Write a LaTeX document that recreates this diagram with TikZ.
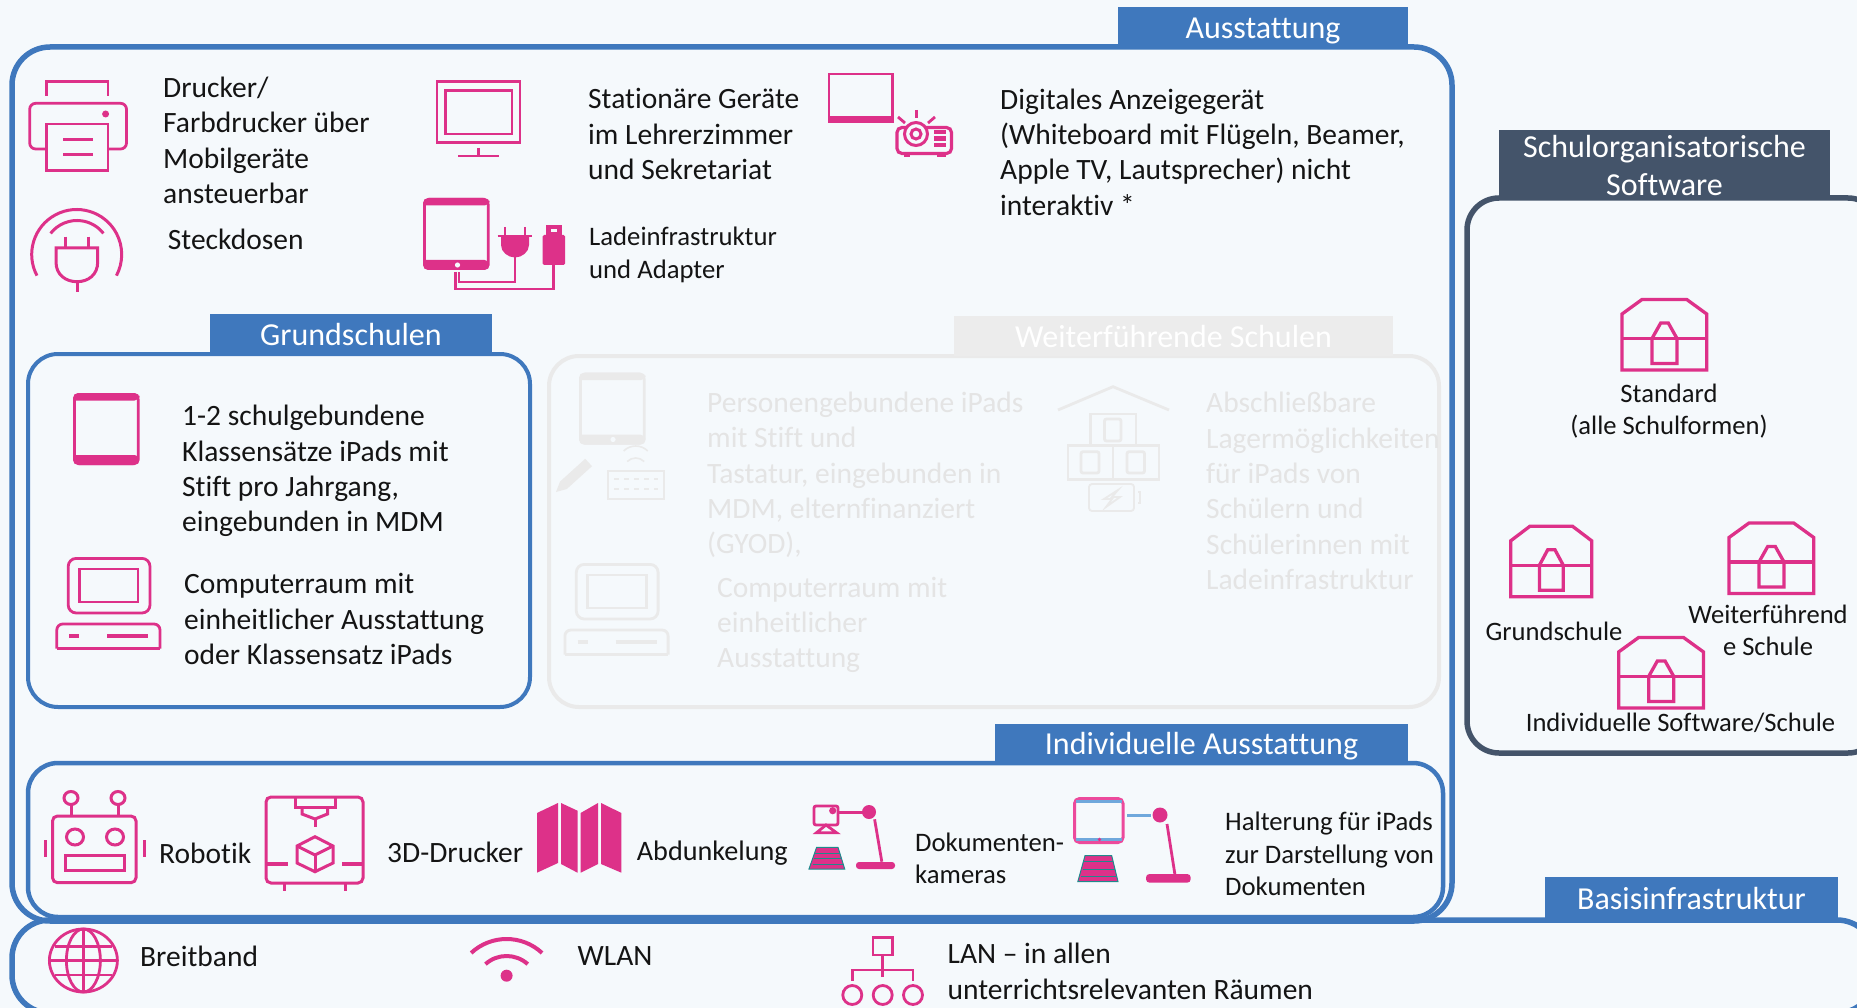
\documentclass[tikz,border=0pt]{standalone}
\usepackage{fontspec}
\setmainfont[Ligatures=NoCommon]{Carlito}
\usepackage{tikz}
\definecolor{pagebg}{HTML}{F5F9FC}
\definecolor{ausblue}{HTML}{3F78BD}
\definecolor{slatedark}{HTML}{44546A}
\definecolor{iconpink}{HTML}{DD3189}
\definecolor{padpink}{HTML}{EC4A9C}
\definecolor{fadeline}{HTML}{EAEAEA}
\definecolor{fadetext}{HTML}{E4E4E4}
\definecolor{fadetab}{HTML}{ECECEC}
\definecolor{docteal}{HTML}{1F8A8C}
\definecolor{padblue}{HTML}{6FA8DC}
\tikzset{
	bodytext/.style={anchor=west, inner sep=0pt, align=left, text=black!92, font=\fontsize{29.5}{35.3}\selectfont},
	smalltext/.style={bodytext, font=\fontsize{26.7}{32.3}\selectfont},
	fadetextnode/.style={bodytext, text=fadetext},
	sidetext/.style={inner sep=0pt, align=center, text=black!92, font=\fontsize{26.6}{32.5}\selectfont},
	tabbox/.style={inner sep=0pt, align=center, text=white, fill=#1, font=\fontsize{32}{38}\selectfont},
	tabline/.style={tabbox=#1, text height=28pt, text depth=6pt},
	bigbox/.style={draw=ausblue, line width=5.5pt, rounded corners=38pt},
	midbox/.style={draw=#1, line width=4pt, rounded corners=30pt},
	iconline/.style={draw=#1, line width=2.8pt},
	iconfill/.style={fill=#1},
}
\def\centerarc[#1](#2,#3)(#4:#5:#6){\draw[#1] ({#2+#6*cos(#4)},{#3-#6*sin(#4)}) arc (#4:#5:#6pt);}
\def\tableticon[#1](#2,#3){
	\draw[iconline=#1, rounded corners=5pt] (#2+1.4,#3+1.4) rectangle (#2+65.2,#3+70.6);
	\fill[iconfill=#1, rounded corners=5pt] (#2,#3+7.5) -- (#2,#3) -- (#2+66.6,#3) -- (#2+66.6,#3+7.5) [sharp corners] -- cycle;
	\fill[iconfill=#1, rounded corners=5pt] (#2,#3+62) -- (#2,#3+72) -- (#2+66.6,#3+72) -- (#2+66.6,#3+62) [sharp corners] -- cycle;
}
\def\compicon[#1](#2,#3){
	\draw[iconline=#1, rounded corners=8pt] (#2+12.8,#3+1.4) rectangle (#2+94.6,#3+56);
	\draw[iconline=#1] (#2+24,#3+12) rectangle (#2+82.6,#3+45);
	\draw[iconline=#1, rounded corners=6pt] (#2+1.4,#3+91.6) -- (#2+1.4,#3+67) -- (#2+104.6,#3+67) -- (#2+104.6,#3+91.6);
	\draw[iconline=#1] (#2+1.4,#3+91.6) -- (#2+104.6,#3+91.6);
	\draw[iconline=#1, line width=3.4pt] (#2+14,#3+79) -- (#2+24,#3+79);
	\draw[iconline=#1, line width=3.4pt] (#2+52,#3+79) -- (#2+93,#3+79);
}
\def\chesticon(#1,#2){
	\draw[iconline=iconpink, line width=3.3pt] (#1,#2+70.5) -- (#1,#2+14.5) -- (#1+20,#2) -- (#1+64.7,#2) -- (#1+84.7,#2+14.5) -- (#1+84.7,#2+70.5) -- cycle;
	\draw[iconline=iconpink, line width=3.3pt] (#1,#2+39) -- (#1+84.7,#2+39);
	\draw[iconline=iconpink, line width=3.3pt] (#1+30,#2+39) -- (#1+30,#2+64) -- (#1+55,#2+64) -- (#1+55,#2+39) -- (#1+46.3,#2+23.5) -- (#1+38.7,#2+23.5) -- cycle;
}

\begin{document}
\begin{tikzpicture}[x=1pt, y=-1pt]
	%%%%% START %%%%%
	\useasboundingbox (0, 0) rectangle (1857, 1008);
	\fill[pagebg] (0, 0) rectangle (1857, 1008);
	
	% frames
	\draw[bigbox] (12, 47) rectangle (1452, 921);
	\draw[bigbox] (12, 920) rectangle (1875, 1013);
	\draw[bigbox, draw=slatedark, rounded corners=32pt] (1467, 198) rectangle (1880, 753);
	\draw[midbox=ausblue] (28, 354) rectangle (530, 707);
	\draw[midbox=fadeline] (549, 356) rectangle (1439, 707);
	\draw[midbox=ausblue, line width=4.5pt] (28, 763) rectangle (1443, 917);
	
	% tabs
	\node[tabline=ausblue, minimum width=290pt, minimum height=41pt] (ausstattung) at (1263, 27.5) {Ausstattung};
	\node[tabline=ausblue, minimum width=282pt, minimum height=40pt] (grundschulen) at (351, 334) {Grundschulen};
	\node[tabline=fadetab, minimum width=439pt, minimum height=40pt] (weiterfuehrende) at (1173.5, 336) {Weiterführende Schulen};
	\node[tabline=ausblue, minimum width=413pt, minimum height=39pt] (individuelle) at (1201.5, 743.5) {Individuelle Ausstattung};
	\node[tabline=ausblue, minimum width=293pt, minimum height=42pt] (basis) at (1691.5, 898) {Basisinfrastruktur};
	\fill[slatedark] (1499, 130) rectangle (1830, 198);
	\node[tabbox=slatedark] (schulorg) at (1664.5, 166) {Schulorganisatorische\\Software};
	
	%%%%% Ausstattung %%%%%
	% printer
	\draw[iconline=iconpink] (46.7, 96) -- (46.7, 81.7) -- (108, 81.7) -- (108, 96);
	\draw[iconline=iconpink, rounded corners=6pt] (46.7, 149) -- (29.7, 149) -- (29.7, 103.3) -- (126.5, 103.3) -- (126.5, 149) -- (108, 149);
	\draw[iconline=iconpink] (46.7, 124) rectangle (108, 170.7);
	\draw[iconline=iconpink] (63, 139.7) -- (93, 139.7);
	\draw[iconline=iconpink] (63, 154.3) -- (93, 154.3);
	\fill[iconfill=iconpink] (105.6, 114) circle (3.5);
	\node[bodytext] (drucker) at (163, 140.5) {Drucker/\\Farbdrucker über\\Mobilgeräte\\ansteuerbar};
	
	% socket
	\centerarc[iconline=iconpink, line width=3pt](76.7,254.5)(208:-28:45);
	\centerarc[iconline=iconpink, line width=3pt](77,254)(142:38:33.5);
	\draw[iconline=iconpink, line width=3pt] (65, 236.7) -- (65, 248);
	\draw[iconline=iconpink, line width=3pt] (88, 236.7) -- (88, 248);
	\draw[iconline=iconpink, line width=3pt] (56, 248) -- (56, 262) .. controls (56, 275) and (66, 281.7) .. (77, 281.7) .. controls (88, 281.7) and (97.7, 275) .. (97.7, 262) -- (97.7, 248) -- cycle;
	\draw[iconline=iconpink, line width=3pt] (77, 281.7) -- (77, 291.7);
	\node[bodytext] (steckdosen) at (167.7, 239) {Steckdosen};
	
	% monitor
	\draw[iconline=iconpink] (437, 81.7) rectangle (520, 142.7);
	\draw[iconline=iconpink] (445.6, 90.7) rectangle (512, 134);
	\draw[iconline=iconpink] (478.5, 148) -- (478.5, 156);
	\draw[iconline=iconpink] (458, 156) -- (499, 156);
	\node[bodytext] (stationaer) at (588, 134) {Stationäre Geräte\\im Lehrerzimmer\\und Sekretariat};
	
	% charging
	\tableticon[iconpink](423,198)
	\fill[pagebg] (457.5, 265) circle (2.6);
	\draw[iconline=iconpink] (505, 227) -- (505, 237);
	\draw[iconline=iconpink] (525, 227) -- (525, 237);
	\draw[iconline=iconpink] (497.5, 236) -- (532, 236);
	\fill[iconfill=iconpink] (501, 236) -- (501, 245) .. controls (501, 252) and (508, 257.5) .. (515, 257.5) .. controls (522, 257.5) and (529, 252) .. (529, 245) -- (529, 236) -- cycle;
	\draw[iconline=iconpink] (515, 257) -- (515, 282) -- (459, 282) -- (459, 272);
	\fill[iconfill=iconpink, rounded corners=1.5pt] (542.5, 235) rectangle (565, 265);
	\fill[iconfill=iconpink] (546, 225) rectangle (561.5, 235);
	\fill[pagebg] (551, 229) rectangle (556.5, 232);
	\draw[iconline=iconpink] (553.6, 265) -- (553.6, 289) -- (455.5, 289) -- (455.5, 272);
	\node[smalltext] (lade) at (589, 255) {Ladeinfrastruktur\\und Adapter};
	
	% projector
	\draw[iconline=iconpink, line width=2.4pt] (829.2, 116) -- (829.2, 74.2) -- (892.4, 74.2) -- (892.4, 116);
	\fill[iconfill=iconpink] (828, 115.7) rectangle (893.6, 122.7);
	\draw[iconline=iconpink, line width=3.2pt, rounded corners=5pt] (897, 127.5) rectangle (951.5, 153.5);
	\fill[iconfill=iconpink] (904, 154) rectangle (910, 157.3);
	\fill[iconfill=iconpink] (937, 154) rectangle (946, 157.3);
	\filldraw[fill=pagebg, iconline=iconpink, line width=3pt] (916, 134) circle (11.5);
	\draw[iconline=iconpink, line width=3pt] (916, 134) circle (5);
	\fill[iconfill=iconpink] (934, 130) rectangle (946, 134);
	\fill[iconfill=iconpink] (934, 136) rectangle (946, 141);
	\fill[iconfill=iconpink] (934, 143) rectangle (946, 147);
	\draw[iconline=iconpink] (916.6, 110) -- (916.6, 118);
	\draw[iconline=iconpink] (898, 117) -- (905, 123);
	\draw[iconline=iconpink] (935, 117) -- (928, 123);
	\node[bodytext] (anzeige) at (1000, 152) {Digitales Anzeigegerät\\(Whiteboard mit Flügeln, Beamer,\\Apple TV, Lautsprecher) nicht\\interaktiv *};
	
	%%%%% Grundschulen %%%%%
	\tableticon[iconpink](73,393)
	\node[bodytext] (klassensaetze) at (182, 471) {1-2 schulgebundene\\Klassensätze iPads mit\\Stift pro Jahrgang,\\eingebunden in MDM};
	\compicon[iconpink](55.4,557)
	\node[bodytext] (computerraum) at (184, 619) {Computerraum mit\\einheitlicher Ausstattung\\oder Klassensatz iPads};
	
	%%%%% Weiterfuehrende Schulen %%%%%
	\tableticon[fadeline](579,372.7)
	\fill[pagebg] (613, 439.5) circle (2.6);
	\centerarc[iconline=fadeline, line width=1.6pt](635.7,463)(135:45:17);
	\centerarc[iconline=fadeline, line width=1.6pt](635.7,470)(135:45:12);
	\draw[iconline=fadeline, line width=2pt] (607.5, 470.7) rectangle (664, 499.3);
	\draw[iconline=fadeline, line width=1.6pt, dash pattern=on 5pt off 5pt] (614, 479) -- (658, 479);
	\draw[iconline=fadeline, line width=1.6pt, dash pattern=on 5pt off 5pt] (614, 489) -- (658, 489);
	\fill[iconfill=fadeline] (556, 492) -- (560, 481.6) -- (585.2, 458.8) -- (592, 466.2) -- (566.8, 489) -- cycle;
	\compicon[fadeline](563.5,563)
	\node[fadetextnode] (personen) at (707, 475) {Personengebundene iPads\\mit Stift und\\Tastatur, eingebunden in\\MDM, elternfinanziert\\(GYOD),};
	\node[fadetextnode] (computerfade) at (717, 625) {Computerraum mit\\einheitlicher\\Ausstattung};
	
	\draw[iconline=fadeline] (1058, 410) -- (1113, 386.7) -- (1169, 410);
	\draw[iconline=fadeline] (1090.5, 414) rectangle (1136, 445.7);
	\draw[iconline=fadeline] (1068, 445.7) rectangle (1159, 479.3);
	\draw[iconline=fadeline] (1113, 445.7) -- (1113, 479.3);
	\draw[iconline=fadeline, rounded corners=2pt] (1104.5, 419) rectangle (1121, 441);
	\draw[iconline=fadeline, rounded corners=2pt] (1081, 451.7) rectangle (1099, 473);
	\draw[iconline=fadeline, rounded corners=2pt] (1127, 451.7) rectangle (1144.5, 473);
	\draw[iconline=fadeline, line width=1.8pt, rounded corners=3pt] (1089, 484) rectangle (1134, 511);
	\draw[iconline=fadeline, line width=1.8pt] (1138, 492) -- (1140, 492) -- (1140, 503) -- (1138, 503);
	\draw[iconline=fadeline, line width=1.8pt] (1118, 490) -- (1104, 499) -- (1112, 499) -- (1106, 507) -- (1120, 497) -- (1112, 497) -- cycle;
	\node[fadetextnode] (lager) at (1206, 491) {Abschließbare\\Lagermöglichkeiten\\für iPads von\\Schülern und\\Schülerinnen mit\\Ladeinfrastruktur};
	
	%%%%% Individuelle Ausstattung %%%%%
	% robot
	\draw[iconline=iconpink, line width=3pt, rounded corners=5pt] (52.5, 816) rectangle (136, 882.7);
	\draw[iconline=iconpink, line width=3pt] (71, 798) ellipse (7 and 6.5);
	\draw[iconline=iconpink, line width=3pt] (118, 798) ellipse (7 and 6.5);
	\draw[iconline=iconpink, line width=3pt] (71, 804.5) -- (71, 816);
	\draw[iconline=iconpink, line width=3pt] (118, 804.5) -- (118, 816);
	\draw[iconline=iconpink, line width=3pt] (75, 837) ellipse (8.5 and 8);
	\draw[iconline=iconpink, line width=3pt] (115, 837) ellipse (8.5 and 8);
	\draw[iconline=iconpink, line width=3pt] (65, 855) rectangle (124, 870.7);
	\draw[iconline=iconpink, line width=3pt] (45, 840) -- (45, 857);
	\draw[iconline=iconpink, line width=3pt] (144, 840) -- (144, 857);
	\node[bodytext] (robotik) at (159, 853) {Robotik};
	
	% 3d printer
	\draw[iconline=iconpink, line width=3pt, rounded corners=5pt] (266, 797) rectangle (363, 883);
	\draw[iconline=iconpink, line width=3pt] (295, 797) -- (295, 807) -- (335, 807) -- (335, 797);
	\draw[iconline=iconpink, line width=3pt] (302, 807) -- (302, 814) -- (315, 819) -- (327.5, 814) -- (327.5, 807);
	\draw[iconline=iconpink, line width=3pt] (315, 819) -- (315, 827);
	\draw[iconline=iconpink, line width=3pt] (315, 836.7) -- (333, 846) -- (333, 863) -- (315, 871.7) -- (297, 863) -- (297, 846) -- cycle;
	\draw[iconline=iconpink, line width=3pt] (297, 846) -- (315, 855) -- (333, 846);
	\draw[iconline=iconpink, line width=3pt] (315, 855) -- (315, 871.7);
	\draw[iconline=iconpink, line width=4.5pt] (266, 864) -- (288, 864);
	\draw[iconline=iconpink, line width=4.5pt] (342, 864) -- (363, 864);
	\draw[iconline=iconpink, line width=3pt] (284, 883) -- (284, 891);
	\draw[iconline=iconpink, line width=3pt] (345, 883) -- (345, 891);
	\node[bodytext] (drucker3d) at (387, 852) {3D-Drucker};
	
	% blackout map
	\fill[iconfill=iconpink] (537, 813) -- (558, 803) -- (558, 863) -- (537, 872.7) -- cycle;
	\fill[iconfill=iconpink] (561, 803) -- (577.5, 810.7) -- (577.5, 872.7) -- (561, 864) -- cycle;
	\fill[iconfill=iconpink] (580.6, 813) -- (598, 803) -- (598, 864) -- (580.6, 872.7) -- cycle;
	\fill[iconfill=iconpink] (601, 803) -- (621.4, 813) -- (621.4, 872.7) -- (601, 864) -- cycle;
	\node[bodytext, font=\fontsize{28.2}{33}\selectfont] (abdunkelung) at (636.7, 853) {Abdunkelung};
	
	% document camera
	\draw[iconline=iconpink, rounded corners=2pt] (814, 806) rectangle (838, 825);
	\fill[iconfill=iconpink] (832.7, 810.7) circle (3.6);
	\draw[iconline=iconpink] (826, 825) -- (816.5, 832.7) -- (836.5, 832.7) -- cycle;
	\draw[iconline=iconpink] (838, 812.3) -- (862.6, 812.3);
	\fill[iconfill=iconpink] (869, 812) circle (7);
	\draw[iconline=iconpink] (874.6, 819.3) -- (881.8, 861.7);
	\fill[iconfill=iconpink, rounded corners=3pt] (856, 869) -- (856, 862) -- (895, 862) -- (895, 869) -- cycle;
	\filldraw[fill=iconpink, draw=docteal, line width=1pt] (816.6, 847.3) -- (838, 847.3) -- (844.7, 869) -- (809, 869) -- cycle;
	\draw[docteal, line width=1pt] (815, 853.3) -- (840, 853.3);
	\draw[docteal, line width=1pt] (814, 858.3) -- (841.5, 858.3);
	\draw[docteal, line width=1pt] (812.5, 864) -- (843, 864);
	\node[smalltext] (kameras) at (915, 858) {Dokumenten-\\kameras};
	
	% tablet holder
	\filldraw[fill=pagebg, draw=padpink, line width=3pt, rounded corners=5pt] (1074.5, 798.5) rectangle (1123, 842.5);
	\fill[padblue] (1076, 800) rectangle (1121.5, 803);
	\fill[padblue] (1076, 838) rectangle (1121.5, 841);
	\fill[iconfill=iconpink] (1099.5, 839.5) circle (1.8);
	\draw[padblue, line width=2.4pt] (1127, 815.3) -- (1150.5, 815.3);
	\fill[iconfill=iconpink] (1160, 815) circle (7.5);
	\draw[iconline=iconpink] (1167, 824) -- (1175, 875);
	\fill[iconfill=iconpink, rounded corners=3.5pt] (1146, 882.7) -- (1146, 874) -- (1190.7, 874) -- (1190.7, 882.7) -- cycle;
	\filldraw[fill=iconpink, draw=docteal, line width=1pt] (1085, 855.7) -- (1111.7, 855.7) -- (1118, 881.7) -- (1077.8, 881.7) -- cycle;
	\draw[docteal, line width=1pt] (1084, 861.7) -- (1113, 861.7);
	\draw[docteal, line width=1pt] (1082.5, 869) -- (1114.5, 869);
	\draw[docteal, line width=1pt] (1081, 876) -- (1116, 876);
	\node[smalltext] (halterung) at (1225, 854) {Halterung für iPads\\zur Darstellung von\\Dokumenten};
	
	%%%%% Schulorganisatorische Software %%%%%
	\chesticon(1622,299.5)
	\node[sidetext] (standard) at (1669, 411) {Standard\\(alle Schulformen)};
	\begin{scope}[shift={(1510.7,526.3)}, xscale=0.956]
		\chesticon(0,0)
	\end{scope}
	\node[sidetext] (grundschule) at (1554, 631) {Grundschule};
	\chesticon(1729,523)
	\node[sidetext] (weiterschule) at (1768, 630.5) {Weiterführend\\e Schule};
	\chesticon(1618.7,637.4)
	\node[sidetext] (indivsoftware) at (1680.5, 723) {Individuelle Software/Schule};
	
	%%%%% Basisinfrastruktur %%%%%
	\draw[iconline=iconpink] (83.4, 960.5) ellipse (34 and 31.5);
	\draw[iconline=iconpink] (83.4, 960.5) ellipse (17 and 31.5);
	\draw[iconline=iconpink] (83.4, 929) -- (83.4, 992);
	\draw[iconline=iconpink] (49.4, 960.5) -- (117.4, 960.5);
	\draw[iconline=iconpink] (55, 946.7) -- (112, 946.7);
	\draw[iconline=iconpink] (55, 975) -- (112, 975);
	\node[bodytext] (breitband) at (140, 956) {Breitband};
	
	\centerarc[iconline=iconpink, line width=4pt](506.6,991)(133:47:52);
	\centerarc[iconline=iconpink, line width=4pt](506.6,987.6)(132:48:31.6);
	\fill[iconfill=iconpink] (506.6, 975.7) ellipse (6 and 6);
	\node[bodytext] (wlan) at (577.5, 955.7) {WLAN};
	
	\draw[iconline=iconpink] (873, 937.7) rectangle (892.5, 955);
	\draw[iconline=iconpink] (882.7, 955) -- (882.7, 976.7);
	\draw[iconline=iconpink] (852.3, 980.7) -- (852.3, 970) -- (913, 970) -- (913, 980.7);
	\draw[iconline=iconpink] (852.3, 995) circle (9.5);
	\draw[iconline=iconpink] (882.7, 995) circle (9.5);
	\draw[iconline=iconpink] (913, 995) circle (9.5);
	\node[bodytext] (lan) at (947.4, 971.5) {LAN – in allen\\unterrichtsrelevanten Räumen};
	
	%%%%% END %%%%%
\end{tikzpicture}
\end{document}
